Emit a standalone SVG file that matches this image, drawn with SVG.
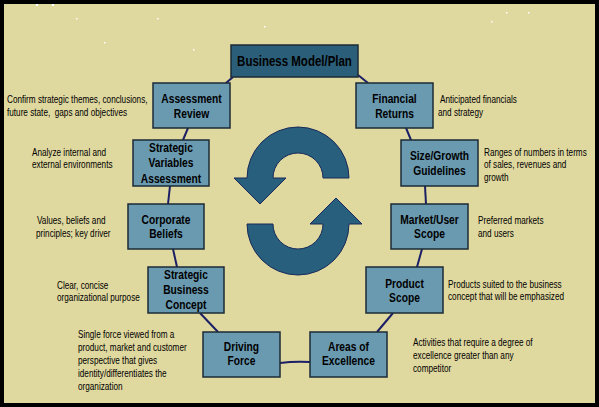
<svg xmlns="http://www.w3.org/2000/svg" width="599" height="407" viewBox="0 0 599 407">
<style>
.box{fill:#6a9ab0;stroke:#1c2a36;stroke-width:1.5}
.main{fill:#2b5f79;stroke:#1c2a36;stroke-width:1.5}
.lbl{font-family:"Liberation Sans",Arial,sans-serif;font-weight:bold;font-size:12.5px;fill:#000;text-anchor:middle}
.note{font-family:"Liberation Sans",Arial,sans-serif;font-size:10px;fill:#000}
.con{stroke:#1b1f66;stroke-width:2;fill:none}
.arr{fill:#275f7c;stroke:#1b2a5a;stroke-width:1}
.dot{fill:#ffffff}
</style>
<rect x="0" y="0" width="599" height="407" fill="#000"/>
<rect x="4" y="4" width="591" height="399" fill="#dfd89f"/>
<g id="specks">
<rect class="dot" x="36" y="4" width="2" height="2"/>
<rect class="dot" x="52" y="4" width="2" height="2"/>
<rect class="dot" x="76" y="18" width="1.5" height="1.5"/>
<rect class="dot" x="157" y="18" width="1.5" height="1.5"/>
<rect class="dot" x="104" y="42" width="1.5" height="1.5"/>
<rect class="dot" x="193" y="49" width="1.5" height="1.5"/>
<rect class="dot" x="264" y="26" width="1.5" height="1.5"/>
<rect class="dot" x="506" y="12" width="1.5" height="1.5"/>
<rect class="dot" x="528" y="12" width="1.5" height="1.5"/>
<rect class="dot" x="491" y="21" width="1.5" height="1.5"/>
</g>
<g id="connectors">
<line class="con" x1="233" y1="77" x2="226" y2="83"/>
<line class="con" x1="358" y1="75" x2="368" y2="83"/>
<line class="con" x1="188" y1="128" x2="183" y2="140"/>
<line class="con" x1="170" y1="186" x2="168" y2="204"/>
<line class="con" x1="173" y1="249" x2="177" y2="267"/>
<line class="con" x1="200" y1="313" x2="218" y2="332"/>
<path class="con" d="M280 363 Q295 361 310 362"/>
<line class="con" x1="377" y1="332" x2="393" y2="313"/>
<line class="con" x1="422" y1="249" x2="417" y2="267"/>
<line class="con" x1="426" y1="204" x2="425" y2="186"/>
<line class="con" x1="406" y1="128" x2="411" y2="140"/>
</g>
<g id="cycle">
<path class="arr" d="M349 178 A51 51 0 0 0 247 178 L234 178 L260 204 L286 178 L273 178 A25 25 0 0 1 323 178 Z"/>
<path class="arr" d="M247 224 A51 51 0 0 0 349 224 L362 224 L336 198 L310 224 L323 224 A25 25 0 0 1 273 224 Z"/>
</g>
<g id="business-model">
<rect class="main" x="231" y="45" width="127" height="32"/>
<text class="lbl" transform="scale(0.82 1)" x="359.15" y="66" style="font-size:14px">Business Model/Plan</text>
</g>
<g id="assessment-review">
<rect class="box" x="153" y="83" width="77" height="45"/>
<g class="lbl" transform="scale(0.82 1)">
<text x="233.54" y="103">Assessment</text>
<text x="233.54" y="118">Review</text>
</g>
</g>
<g id="financial-returns">
<rect class="box" x="356" y="83" width="77" height="45"/>
<g class="lbl" transform="scale(0.82 1)">
<text x="481.1" y="103">Financial</text>
<text x="481.1" y="118">Returns</text>
</g>
</g>
<g id="strategic-variables">
<rect class="box" x="133" y="140" width="76" height="46"/>
<g class="lbl" transform="scale(0.82 1)">
<text x="208.54" y="152">Strategic</text>
<text x="208.54" y="167">Variables</text>
<text x="208.54" y="183">Assessment</text>
</g>
</g>
<g id="size-growth">
<rect class="box" x="401" y="140" width="77" height="46"/>
<g class="lbl" transform="scale(0.82 1)">
<text x="535.98" y="160">Size/Growth</text>
<text x="535.98" y="175">Guidelines</text>
</g>
</g>
<g id="corporate-beliefs">
<rect class="box" x="128" y="204" width="76" height="45"/>
<g class="lbl" transform="scale(0.82 1)">
<text x="202.44" y="224">Corporate</text>
<text x="202.44" y="238">Beliefs</text>
</g>
</g>
<g id="market-user">
<rect class="box" x="391" y="204" width="77" height="45"/>
<g class="lbl" transform="scale(0.82 1)">
<text x="523.78" y="224">Market/User</text>
<text x="523.78" y="238">Scope</text>
</g>
</g>
<g id="strategic-business">
<rect class="box" x="148" y="267" width="76" height="46"/>
<g class="lbl" transform="scale(0.82 1)">
<text x="226.83" y="279">Strategic</text>
<text x="226.83" y="294">Business</text>
<text x="226.83" y="309">Concept</text>
</g>
</g>
<g id="product-scope">
<rect class="box" x="366" y="267" width="77" height="46"/>
<g class="lbl" transform="scale(0.82 1)">
<text x="493.29" y="288">Product</text>
<text x="493.29" y="302">Scope</text>
</g>
</g>
<g id="driving-force">
<rect class="box" x="203" y="332" width="77" height="45"/>
<g class="lbl" transform="scale(0.82 1)">
<text x="294.51" y="351">Driving</text>
<text x="294.51" y="365">Force</text>
</g>
</g>
<g id="areas-excellence">
<rect class="box" x="310" y="332" width="77" height="45"/>
<g class="lbl" transform="scale(0.82 1)">
<text x="425" y="351">Areas of</text>
<text x="425" y="365">Excellence</text>
</g>
</g>
<g id="notes" class="note" transform="scale(0.82 1)">
<text x="8.54" y="103">Confirm strategic themes, conclusions,</text>
<text x="8.54" y="116">future state, &#160;gaps and objectives</text>
<text x="536.59" y="103">Anticipated financials</text>
<text x="534.15" y="116">and strategy</text>
<text x="39.02" y="156">Analyze internal and</text>
<text x="39.02" y="168">external environments</text>
<text x="45.12" y="224">Values, beliefs and</text>
<text x="43.9" y="237">principles; key driver</text>
<text x="590.24" y="156">Ranges of numbers in terms</text>
<text x="590.24" y="168">of sales, revenues and</text>
<text x="590.24" y="181">growth</text>
<text x="582.93" y="224">Preferred markets</text>
<text x="582.93" y="237">and users</text>
<text x="69.51" y="289">Clear, concise</text>
<text x="69.51" y="301">organizational purpose</text>
<text x="95.12" y="338">Single force viewed from a</text>
<text x="95.12" y="351">product, market and customer</text>
<text x="95.12" y="364">perspective that gives</text>
<text x="95.12" y="377">identity/differentiates the</text>
<text x="95.12" y="390">organization</text>
<text x="546.34" y="288">Products suited to the business</text>
<text x="546.34" y="300">concept that will be emphasized</text>
<text x="503.66" y="346">Activities that require a degree of</text>
<text x="503.66" y="359">excellence greater than any</text>
<text x="503.66" y="372">competitor</text>
</g>
</svg>
